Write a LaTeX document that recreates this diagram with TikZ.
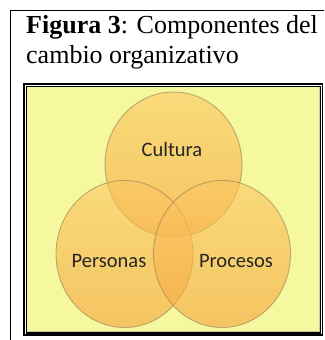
\documentclass[tikz,border=0pt]{standalone}
\usepackage{fontspec}
\setmainfont{Liberation Serif}
\newfontfamily\calibri{Carlito}
\definecolor{fondo}{RGB}{245,248,158}
\definecolor{sombra}{RGB}{200,198,170}
\definecolor{naranja}{RGB}{246,165,62}
\definecolor{naranjaclaro}{RGB}{252,200,100}
\definecolor{borde}{RGB}{150,125,85}
\begin{document}
\begin{tikzpicture}[x=1pt,y=-1pt]
    \tikzset{conjunto/.style={top color=naranjaclaro,bottom color=naranja,fill opacity=0.62,draw=borde,draw opacity=0.6,line width=0.9pt}};
    \tikzset{etiqueta/.style={font=\calibri\fontsize{20.5}{24}\selectfont,anchor=base,text=black!85}};
    \tikzset{titulo/.style={font=\fontsize{26}{30}\selectfont,anchor=base west,inner sep=0pt}};
    \useasboundingbox (0,0) rectangle (324,340);
    % celda de la tabla
    \draw[line width=1pt] (324,10) -- (10,10) -- (10,340);
    \node[titulo] (tit1) at (26,34) {\textbf{Figura 3}: Componentes del};
    \node[titulo] (tit2) at (26,63) {cambio organizativo};
    % marco doble
    \fill[fondo] (27,87) rectangle (320,332);
    \draw[sombra,line width=1pt] (319.5,87) -- (319.5,331.5) -- (27,331.5);
    \draw[line width=1.3pt] (24,84) rectangle (322.5,335);
    \draw[line width=1.3pt] (26.5,86.5) rectangle (320.5,333);
    % diagrama
    \draw[conjunto] (173.5,164.5) ellipse[x radius=68.5,y radius=72.5];
    \draw[conjunto] (124.5,254) ellipse[x radius=68.5,y radius=73.5];
    \draw[conjunto] (222,254) ellipse[x radius=68.5,y radius=73.5];
    \node[etiqueta] (cultura) at (172,156) {Cultura};
    \node[etiqueta] (personas) at (109,267) {Personas};
    \node[etiqueta] (procesos) at (236,267) {Procesos};
\end{tikzpicture}
\end{document}
